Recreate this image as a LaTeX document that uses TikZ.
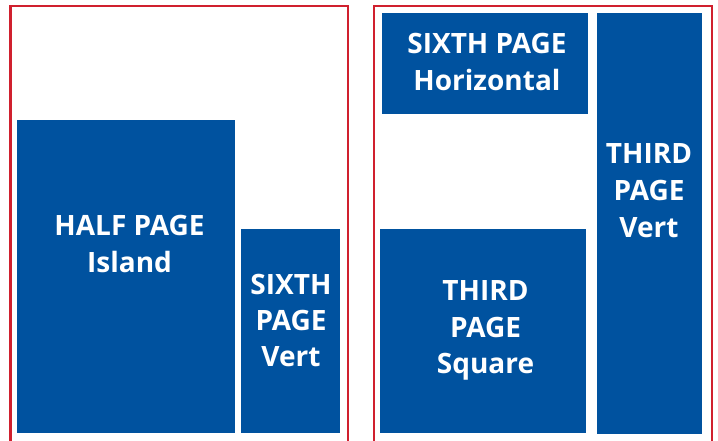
\documentclass[tikz,border=0pt]{standalone}
\usepackage{fontspec}
\setmainfont{Open Sans}
\definecolor{adblue}{RGB}{0,82,159}
\definecolor{framered}{RGB}{208,32,46}
\begin{document}
\begin{tikzpicture}[x=1pt,y=-1pt,
  frame/.style={draw=framered,line width=2.8pt},
  adbox/.style={fill=adblue,draw=none},
  lbl/.style={text=white,font=\fontsize{28}{34}\selectfont\bfseries,anchor=base,inner sep=0pt}]
\useasboundingbox (0,0) rectangle (718,440);
\fill[white] (0,0) rectangle (718,440);
% frames
\draw[frame] (10.5,460) -- (10.5,6) -- (348,6) -- (348,460);
\draw[frame] (374,460) -- (374,6) -- (712,6) -- (712,460);
% boxes
\path[adbox] (17,120) rectangle (235,433);
\path[adbox] (241,229) rectangle (340,433);
\path[adbox] (382,13) rectangle (588,114);
\path[adbox] (597,13) rectangle (702,434);
\path[adbox] (380,229) rectangle (586,433);
% labels
\node[lbl] (h1) at (129.5,235) {HALF PAGE};
\node[lbl] (h2) at (129.5,272) {Island};
\node[lbl] (s1) at (291,294) {SIXTH};
\node[lbl] (s2) at (291,330.7) {PAGE};
\node[lbl] (s3) at (291,366.7) {Vert};
\node[lbl] (q1) at (485.5,300) {THIRD};
\node[lbl] (q2) at (485.5,337.3) {PAGE};
\node[lbl] (q3) at (485.5,373.3) {Square};
\node[lbl] (v1) at (649,163.3) {THIRD};
\node[lbl] (v2) at (649,200.7) {PAGE};
\node[lbl] (v3) at (649,237) {Vert};
\node[lbl] (x1) at (487,53) {SIXTH PAGE};
\node[lbl] (x2) at (487,90.7) {Horizontal};
\end{tikzpicture}
\end{document}
